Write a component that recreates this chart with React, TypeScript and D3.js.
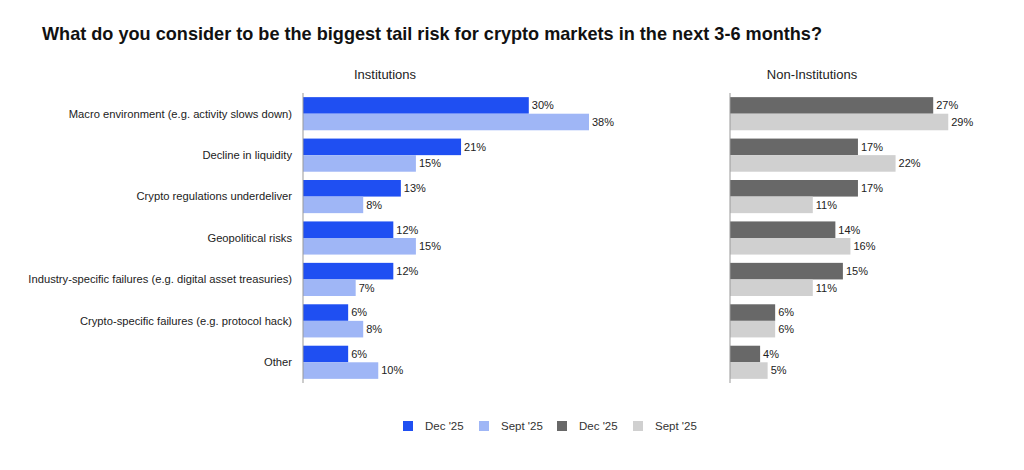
import React from "react";
import * as d3 from "d3";

const categories = [
  "Macro environment (e.g. activity slows down)",
  "Decline in liquidity",
  "Crypto regulations underdeliver",
  "Geopolitical risks",
  "Industry-specific failures (e.g. digital asset treasuries)",
  "Crypto-specific failures (e.g. protocol hack)",
  "Other",
];
const instDec = [30, 21, 13, 12, 12, 6, 6];
const instSept = [38, 15, 8, 15, 7, 8, 10];
const nonInstDec = [27, 17, 17, 14, 15, 6, 4];
const nonInstSept = [29, 22, 11, 16, 11, 6, 5];
const seriesKeys = ["Dec '25", "Sept '25"];

const title = "What do you consider to be the biggest tail risk for crypto markets in the next 3-6 months?";
const font = "'Liberation Sans', Arial, sans-serif";

const colors = {
  instDec: "#1f4ff2",
  instSept: "#9fb6f6",
  nonDec: "#686868",
  nonSept: "#d0d0d0",
};

export default function App() {
  const width = 1024;
  const height = 470;
  const top = 93;
  const bottom = 383;

  const y = d3.scaleBand<string>().domain(categories).range([top, bottom]).paddingInner(0.2).paddingOuter(0.1);
  const sub = d3.scaleBand<string>().domain(seriesKeys).range([0, y.bandwidth()]).padding(0);
  const x = d3.scaleLinear().domain([0, 38]).range([0, 286]);

  const panels = [
    { name: "Institutions", x0: 303, center: 385, data: [instDec, instSept], fill: [colors.instDec, colors.instSept] },
    { name: "Non-Institutions", x0: 730, center: 812, data: [nonInstDec, nonInstSept], fill: [colors.nonDec, colors.nonSept] },
  ];

  const legend = [
    { label: "Dec '25", color: colors.instDec, x: 403 },
    { label: "Sept '25", color: colors.instSept, x: 479 },
    { label: "Dec '25", color: colors.nonDec, x: 557 },
    { label: "Sept '25", color: colors.nonSept, x: 633 },
  ];

  return (
    <svg width={width} height={height} style={{ position: "absolute", left: 0, top: 0, background: "#fff" }} fontFamily={font}>
      <text x={42} y={40} fontSize={19} fontWeight="bold" fill="#111" textLength={780} lengthAdjust="spacingAndGlyphs">
        {title}
      </text>

      {panels.map((p) => (
        <g key={p.name}>
          <text x={p.center} y={79} fontSize={13} textAnchor="middle" fill="#222">{p.name}</text>
          {p.data.map((vals, si) =>
            vals.map((v, i) => {
              const by = (y(categories[i]) as number) + (sub(seriesKeys[si]) as number);
              const bh = sub.bandwidth();
              return (
                <g key={si + "-" + i}>
                  <rect x={p.x0} y={by} width={x(v)} height={bh} fill={p.fill[si]} />
                  <text x={p.x0 + x(v) + 3} y={by + bh / 2} dy="0.35em" fontSize={11} fill="#222">{v}%</text>
                </g>
              );
            })
          )}
          <line x1={p.x0} x2={p.x0} y1={top} y2={bottom} stroke="#999" strokeWidth={1} />
        </g>
      ))}

      {categories.map((c) => (
        <text key={c} x={292} y={(y(c) as number) + y.bandwidth() / 2} dy="0.35em" textAnchor="end" fontSize={11.2} fill="#222">
          {c}
        </text>
      ))}

      {legend.map((l, i) => (
        <g key={i}>
          <rect x={l.x} y={421} width={10} height={10} fill={l.color} />
          <text x={l.x + 22} y={426} dy="0.35em" fontSize={11.5} fill="#333">{l.label}</text>
        </g>
      ))}
    </svg>
  );
}
